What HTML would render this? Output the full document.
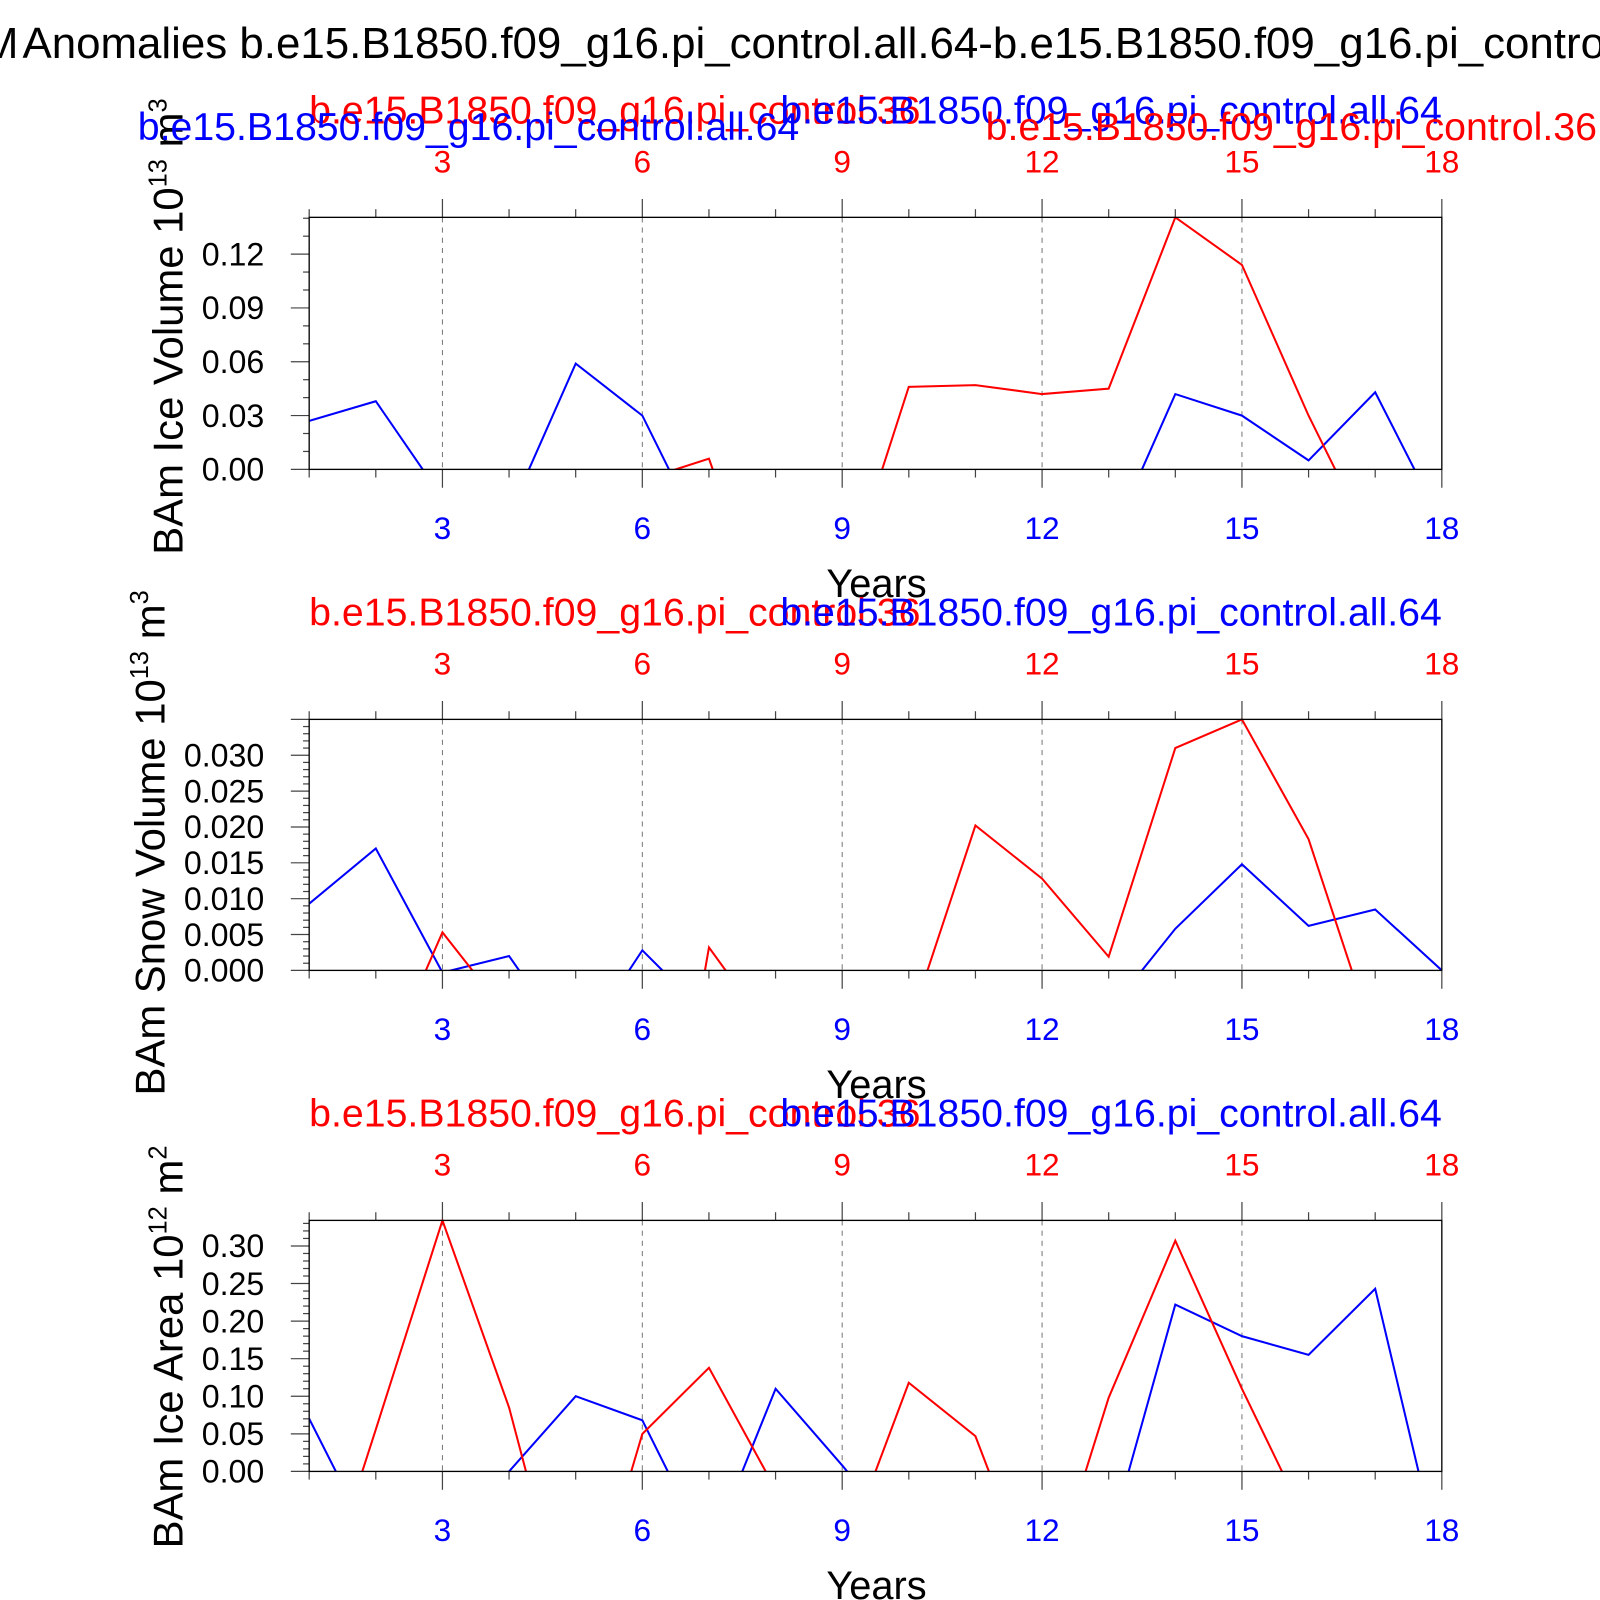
<!DOCTYPE html>
<html><head><meta charset="utf-8"><style>html,body{margin:0;padding:0;background:#fff}svg{display:block}text{font-family:"Liberation Sans",Arial,sans-serif}</style></head>
<body>
<svg id="chart" width="1600" height="1600" viewBox="0 0 1600 1600">
<g transform="scale(1.0204)">
<text x="18" y="57" font-size="43" text-anchor="end">BAM</text>
<text x="22" y="57" font-size="43">Anomalies b.e15.B1850.f09_g16.pi_control.all.64-b.e15.B1850.f09_g16.pi_control.36</text>
<g id="panels"></g>
</g>
</svg>
<script>
const years = [1,2,3,4,5,6,7,8,9,10,11,12,13,14,15,16,17,18];
const iceVolBlue = [0.027,0.038,-0.016,-0.025,0.059,0.030,-0.045,-0.05,-0.05,-0.05,-0.05,-0.05,-0.042,0.042,0.030,0.005,0.043,-0.03];
const iceVolRed = [-0.05,-0.05,-0.05,-0.05,-0.05,-0.006,0.006,-0.1,-0.069,0.046,0.047,0.042,0.045,0.1405,0.114,0.030,-0.045,-0.03];
const snowVolBlue = [0.0093,0.017,-0.0003,0.002,-0.0113,0.0028,-0.0065,-0.01,-0.01,-0.01,-0.01,-0.01,-0.0058,0.0058,0.0148,0.0062,0.0085,0.0];
const snowVolRed = [-0.02,-0.016,0.0053,-0.0065,-0.01,-0.05,0.0032,-0.0096,-0.01,-0.0079,0.0202,0.0128,0.0019,0.031,0.035,0.0183,-0.0099,-0.01];
const iceAreaBlue = [0.07,-0.105,-0.1,0.0,0.10,0.068,-0.11,0.11,0.008,-0.1,-0.1,-0.1,-0.095,0.222,0.18,0.155,0.243,-0.131];
const iceAreaRed = [-0.22,0.056,0.334,0.085,-0.25,0.05,0.138,-0.024,-0.118,0.118,0.047,-0.185,0.098,0.307,0.11,-0.073,-0.1,-0.1];
const xTicks = [3,6,9,12,15,18];
const yTicks1 = ["0.00","0.03","0.06","0.09","0.12"];
const yTicks2 = ["0.000","0.005","0.010","0.015","0.020","0.025","0.030"];
const yTicks3 = ["0.00","0.05","0.10","0.15","0.20","0.25","0.30"];

const NS="http://www.w3.org/2000/svg";
const root=document.getElementById('panels');
const X0=303,X1=1413;
function sx(v){return X0+(v-1)/(17)*(X1-X0);}
function mk(tag,attrs,parent){const e=document.createElementNS(NS,tag);for(const k in attrs)e.setAttribute(k,attrs[k]);(parent||root).appendChild(e);return e;}
const label="b.e15.B1850.f09_g16.pi_control";

const panels=[
 {top:213,bot:460,ymax:0.1405,minor:0.01,major:0.03,ticks:yTicks1,blue:iceVolBlue,red:iceVolRed,title:["BAm Ice Volume 10","13"," m","3"],tx:179,ty:320},
 {top:705,bot:951,ymax:0.035,minor:0.001,major:0.005,ticks:yTicks2,blue:snowVolBlue,red:snowVolRed,title:["BAm Snow Volume 10","13"," m","3"],tx:161,ty:826},
 {top:1196,bot:1442,ymax:0.334,minor:0.01,major:0.05,ticks:yTicks3,blue:iceAreaBlue,red:iceAreaRed,title:["BAm Ice Area 10","12"," m","2"],tx:179,ty:1320}
];
panels.forEach((p,i)=>{
 const g=mk('g',{});
 
 
 const sy=v=>p.bot-(v/p.ymax)*(p.bot-p.top);
 xTicks.forEach(t=>{ if(t<18){const l=mk('line',{x1:sx(t),x2:sx(t),y1:p.top,y2:p.bot,stroke:'#777','stroke-width':1,'stroke-dasharray':'5,5'},g);
  
  }});
 years.forEach(t=>{const maj=xTicks.includes(t);const len=maj?18:8;
  mk('line',{x1:sx(t),x2:sx(t),y1:p.bot,y2:p.bot+len,stroke:'#444','stroke-width':1.2},g);
  mk('line',{x1:sx(t),x2:sx(t),y1:p.top,y2:p.top-len,stroke:'#444','stroke-width':1.2},g);});
 xTicks.forEach(t=>{
  const a=mk('text',{x:sx(t),y:p.top-44,'font-size':31,fill:'#f00','text-anchor':'middle'},g);a.textContent=t;
  
  
  const b=mk('text',{x:sx(t),y:p.bot+68,'font-size':31,fill:'#00f','text-anchor':'middle'},g);b.textContent=t;
  
  
 });
 const nMinor=Math.floor(p.ymax/p.minor+1e-6);
 for(let k=0;k<=nMinor;k++){const v=k*p.minor;const maj=Math.abs(v/p.major-Math.round(v/p.major))<1e-6;
  mk('line',{x1:X0,x2:X0-(maj?18:6),y1:sy(v),y2:sy(v),stroke:'#444','stroke-width':1.2},g);}
 p.ticks.forEach((t)=>{const v=parseFloat(t);const e=mk('text',{x:259,y:sy(v)+11,'font-size':31.5,'text-anchor':'end'},g);e.textContent=t;
  
  });
 const cp=mk('clipPath',{id:'cp'+i},g);mk('rect',{x:X0,y:p.top-1,width:X1-X0,height:p.bot-p.top+1},cp);
 [['blue',p.blue,'#00f'],['red',p.red,'#f00']].forEach(([n,arr,c])=>{
  const pts=arr.map((v,j)=>sx(years[j]).toFixed(1)+','+sy(v).toFixed(1)).join(' ');
  const pl=mk('polyline',{points:pts,fill:'none',stroke:c,'stroke-width':2,'clip-path':'url(#cp'+i+')'},g);
  
  
 });
 const fr=mk('rect',{x:X0,y:p.top,width:X1-X0,height:p.bot-p.top,fill:'none',stroke:'#000','stroke-width':1.3},g);
 
 
 const yr=mk('text',{x:859,y:p.bot+125,'font-size':39,'text-anchor':'middle'},g);yr.textContent='Years';
 
 
 const tt=mk('text',{x:0,y:0,'font-size':41,'text-anchor':'middle',transform:'translate('+p.tx+','+p.ty+') rotate(-90)'},g);
 
 
 const parts=p.title;
 const s1=mk('tspan',{},tt);s1.textContent=parts[0];
 const s2=mk('tspan',{dy:-16,'font-size':25},tt);s2.textContent=parts[1];
 const s3=mk('tspan',{dy:16},tt);s3.textContent=parts[2];
 const s4=mk('tspan',{dy:-16,'font-size':25},tt);s4.textContent=parts[3];
 const bl=i===0?121:p.top-92;
 const r1=mk('text',{x:X0,y:bl,'font-size':38.5,fill:'#f00'},g);r1.textContent=label+'.36';
 
 
 const b1=mk('text',{x:X1,y:bl,'font-size':38.5,fill:'#00f','text-anchor':'end'},g);b1.textContent=label+'.all.64';
 
 
 if(i===0){
  const b2=mk('text',{x:135,y:137,'font-size':38.5,fill:'#00f'},g);b2.textContent=label+'.all.64';
  
  
  const r2=mk('text',{x:1565,y:137,'font-size':38.5,fill:'#f00','text-anchor':'end'},g);r2.textContent=label+'.36';
  
  
 }
});
</script>
</body></html>
